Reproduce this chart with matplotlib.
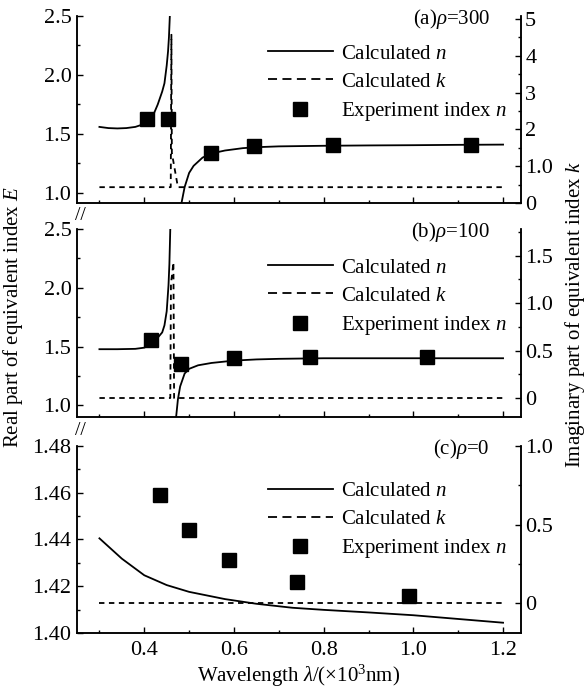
import numpy as np
import matplotlib
matplotlib.use("Agg")
import matplotlib.pyplot as plt
from matplotlib.lines import Line2D
from matplotlib.ticker import MultipleLocator, FuncFormatter

plt.rcParams['font.family'] = ['Liberation Serif', 'DejaVu Serif']
plt.rcParams['mathtext.fontset'] = 'custom'
plt.rcParams['mathtext.rm'] = 'Liberation Serif'
plt.rcParams['mathtext.it'] = 'Liberation Serif:italic'
plt.rcParams['font.size'] = 15

# ---- data ----
# (a) rho = 300
lam_n_a1 = [0.30, 0.32, 0.34, 0.36, 0.38, 0.40, 0.41, 0.42, 0.43, 0.44, 0.445, 0.45, 0.453, 0.455, 0.457]
n_a1 = [1.56, 1.55, 1.547, 1.55, 1.56, 1.585, 1.61, 1.66, 1.75, 1.86, 1.93, 2.08, 2.20, 2.32, 2.50]
lam_n_a2 = [0.483, 0.49, 0.50, 0.51, 0.53, 0.55, 0.58, 0.62, 0.65, 0.70, 0.80, 0.90, 1.0, 1.1, 1.2]
n_a2 = [0.915, 1.05, 1.17, 1.23, 1.30, 1.335, 1.36, 1.38, 1.388, 1.395, 1.40, 1.403, 1.405, 1.408, 1.41]
lam_k_a = [0.30, 0.459, 0.4605, 0.4615, 0.475, 1.20]
k_a = [0.43, 0.43, 4.57, 1.36, 0.43, 0.43]
exp_lam_a = [0.405, 0.454, 0.549, 0.645, 0.821, 1.128]
exp_n_a = [1.627, 1.627, 1.34, 1.40, 1.405, 1.41]

# (b) rho = 100
lam_n_b1 = [0.30, 0.34, 0.38, 0.40, 0.42, 0.43, 0.44, 0.445, 0.45, 0.454, 0.456, 0.458]
n_b1 = [1.477, 1.477, 1.48, 1.49, 1.53, 1.575, 1.62, 1.68, 1.80, 2.02, 2.20, 2.50]
lam_n_b2 = [0.471, 0.475, 0.48, 0.49, 0.50, 0.52, 0.55, 0.60, 0.65, 0.70, 0.80, 1.0, 1.2]
n_b2 = [0.90, 1.05, 1.16, 1.27, 1.31, 1.34, 1.36, 1.38, 1.39, 1.395, 1.40, 1.40, 1.40]
lam_k_b = [0.30, 0.458, 0.4595, 0.462, 0.465, 0.4665, 1.20]
k_b = [0, 0, 1.21, 1.30, 1.43, 0, 0]
exp_lam_b = [0.416, 0.483, 0.599, 0.770, 1.030]
exp_n_b = [1.554, 1.35, 1.40, 1.407, 1.407]

# (c) rho = 0
lam_n_c = [0.30, 0.35, 0.40, 0.45, 0.50, 0.58, 0.65, 0.73, 0.80, 0.90, 1.0, 1.1, 1.2]
n_c = [1.4405, 1.4318, 1.4247, 1.4205, 1.4176, 1.4145, 1.4125, 1.4108, 1.4099, 1.4088, 1.4076, 1.406, 1.4044]
lam_k_c = [0.30, 1.20]
k_c = [0, 0]
exp_lam_c = [0.436, 0.50, 0.589, 0.74, 0.991]
exp_n_c = [1.4592, 1.4439, 1.4312, 1.4218, 1.4158]

panel_labels = [r'(a)$\rho$=300', r'(b)$\rho$=100', r'(c)$\rho$=0']

fig = plt.figure(figsize=(5.88, 6.92), dpi=100)

W = 588.0
H = 692.0
left, right = 77, 521
tops = [16, 229, 446]
bottoms = [203, 417, 633]

ylims = [(0.915, 2.5), (0.9, 2.5), (1.40, 1.48)]
ylims2 = [(0, 5.08), (-0.2, 1.78), (-0.19, 1.0)]
ymaj = [0.5, 0.5, 0.02]
ymin = [0.25, 0.25, 0.01]
y2maj = [1, 0.5, 0.5]
y2min = [0.5, 0.25, 0.25]
leg_anchor = [0.43, 0.85], [0.43, 0.845], [0.43, 0.81]

n_curves = [[(lam_n_a1, n_a1), (lam_n_a2, n_a2)],
            [(lam_n_b1, n_b1), (lam_n_b2, n_b2)],
            [(lam_n_c, n_c)]]
k_curves = [(lam_k_a, k_a), (lam_k_b, k_b), (lam_k_c, k_c)]
exps = [(exp_lam_a, exp_n_a), (exp_lam_b, exp_n_b), (exp_lam_c, exp_n_c)]


def fmt_right(v, pos):
    if abs(v) < 1e-9:
        return '0'
    if float(v).is_integer() and v >= 2:
        return '%d' % v
    return '%.1f' % v


for i in range(3):
    ax = fig.add_axes([left / W, 1 - bottoms[i] / H, (right - left) / W, (bottoms[i] - tops[i]) / H])
    ax2 = ax.twinx()

    for xs, ys in n_curves[i]:
        ax.plot(xs, ys, color='black', lw=1.3)
    ax2.plot(k_curves[i][0], k_curves[i][1], color='black', lw=1.3, linestyle=(0, (3, 2.5)))
    ax.plot(exps[i][0], exps[i][1], linestyle='none', marker='s', markersize=10, color='black')

    ax.set_xlim(0.25, 1.24)
    ax.set_ylim(*ylims[i])
    ax2.set_ylim(*ylims2[i])
    ax.xaxis.set_major_locator(MultipleLocator(0.2))
    ax.xaxis.set_minor_locator(MultipleLocator(0.1))
    ax.yaxis.set_major_locator(MultipleLocator(ymaj[i]))
    ax.yaxis.set_minor_locator(MultipleLocator(ymin[i]))
    ax2.yaxis.set_major_locator(MultipleLocator(y2maj[i]))
    ax2.yaxis.set_minor_locator(MultipleLocator(y2min[i]))
    ax2.yaxis.set_major_formatter(FuncFormatter(fmt_right))
    if i == 2:
        ax.yaxis.set_major_formatter(FuncFormatter(lambda v, p: '%.2f' % v))
    else:
        ax.yaxis.set_major_formatter(FuncFormatter(lambda v, p: '%.1f' % v))

    for a in (ax, ax2):
        a.spines['top'].set_visible(False)
        for s in a.spines.values():
            s.set_linewidth(1.1)
        a.tick_params(which='both', direction='in', width=1.0, labelsize=16)
        a.tick_params(which='major', length=4.5)
        a.tick_params(which='minor', length=2.5)
    ax.tick_params(axis='y', pad=4)
    ax2.tick_params(axis='y', pad=3)
    ax.tick_params(axis='x', pad=6)
    if i < 2:
        ax.tick_params(axis='x', labelbottom=False)

    ax.text(0.93, 0.985, panel_labels[i], transform=ax.transAxes, ha='right', va='center')

    handles = [Line2D([], [], color='black', lw=1.3),
               Line2D([], [], color='black', lw=1.3, linestyle=(0, (5, 3))),
               Line2D([], [], color='black', marker='s', markersize=10, linestyle='none')]
    labels = [r'Calculated $n$', r'Calculated $k$', r'Experiment index $n$']
    ax.legend(handles, labels, loc='upper left', bbox_to_anchor=leg_anchor[i], frameon=False,
              borderpad=0, borderaxespad=0, handlelength=3.1, handletextpad=0.4,
              labelspacing=0.4, fontsize=15)

    if i == 2:
        ax.set_xlabel(r'Wavelength $\lambda$/(×10$^3$nm)', labelpad=2)

# axis break marks between the panels
fig.text(80 / W, 1 - 215 / H, '//', ha='center', va='center', fontsize=14)
fig.text(80 / W, 1 - 431 / H, '//', ha='center', va='center', fontsize=14)

fig.text(13 / W, 1 - 317 / H, r'Real part of equivalent index $E$', rotation=90, ha='center', va='center')
fig.text(575 / W, 1 - 315 / H, r'Imaginary part of equivalent index $k$', rotation=90, ha='center', va='center')

fig.savefig('out.png', dpi=100)
